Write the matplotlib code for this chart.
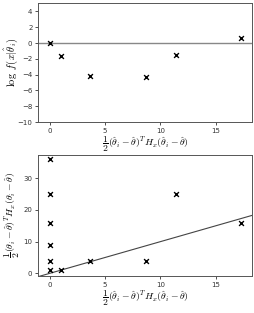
import matplotlib
matplotlib.use('Agg')
import matplotlib.pyplot as plt

# data
x_top = [0, 1, 3.6, 8.7, 11.4, 17.3]
y_top = [0, -1.7, -4.2, -4.3, -1.5, 0.6]

x_bot = [0, 0, 0, 0, 0, 0, 1, 3.6, 8.7, 11.4, 17.3]
y_bot = [36, 25, 16, 9, 4, 1, 1, 4, 4, 25, 16]

xticks = [0, 5, 10, 15]
yticks_top = [-10, -8, -6, -4, -2, 0, 2, 4]
yticks_bot = [0, 10, 20, 30]

plt.rcParams['mathtext.fontset'] = 'cm'
fig = plt.figure(figsize=(2.55, 3.13), dpi=100)
ax1 = fig.add_axes([0.149, 0.610, 0.839, 0.380])
ax2 = fig.add_axes([0.149, 0.118, 0.839, 0.387])

xlab = r'$\dfrac{1}{2}(\hat{\theta}_i-\hat{\theta})^T H_x(\hat{\theta}_i-\hat{\theta})$'

ax1.axhline(0, color='#888888', lw=1.0, zorder=1)
ax1.scatter(x_top, y_top, marker='x', s=12, c='black', lw=1.0, zorder=3)
ax1.set_xlim(-1.05, 18.25)
ax1.set_ylim(-10, 5.05)
ax1.set_yticks(yticks_top)
ax1.set_ylabel(r'$\log\ f(x|\hat{\theta}_i)$', fontsize=7.5)
ax1.yaxis.set_label_coords(-0.085, 0.5)
ax1.set_xlabel(xlab, fontsize=7, labelpad=1)

lims = [-1.05, 18.25]
ax2.plot(lims, lims, color='#444444', lw=0.8, zorder=1)
ax2.scatter(x_bot, y_bot, marker='x', s=12, c='black', lw=1.0, zorder=3)
ax2.set_xlim(-1.05, 18.25)
ax2.set_ylim(-0.85, 37.3)
ax2.set_yticks(yticks_bot)
ax2.set_ylabel(r'$\dfrac{1}{2}(\theta_i-\hat{\theta})^T H_x(\theta_i-\hat{\theta})$', fontsize=7)
ax2.yaxis.set_label_coords(-0.075, 0.5)
ax2.set_xlabel(xlab, fontsize=7, labelpad=1)

for ax in (ax1, ax2):
    ax.set_xticks(xticks)
    ax.tick_params(labelsize=5, length=2, width=0.6, pad=2, colors='#333333')
    for s in ax.spines.values():
        s.set_linewidth(0.7)
        s.set_color('#555555')

fig.savefig('out.png', dpi=100)
